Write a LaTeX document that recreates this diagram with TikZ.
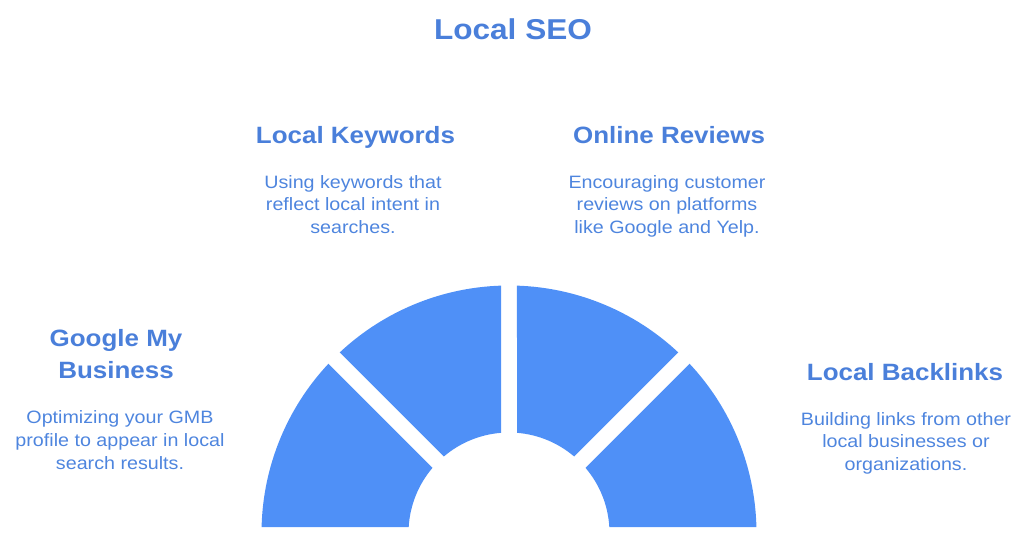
\documentclass[tikz,border=0pt]{standalone}
\usepackage{fontspec}
\setmainfont{Liberation Sans}[FakeStretch=1.1]
\definecolor{segblue}{HTML}{4F90F7}
\definecolor{headblue}{HTML}{4A7FDA}
\definecolor{bodyblue}{HTML}{4E85DE}
\newcommand{\blocklines}[1]{\begin{tabular}[t]{@{}c@{}}#1\end{tabular}}
\begin{document}
\begin{tikzpicture}[x=1pt,y=1pt,
  seg/.style={fill=segblue,draw=none},
  titletext/.style={inner sep=0pt,anchor=base,text=headblue,font=\fontsize{28.7}{34}\selectfont\bfseries},
  headtext/.style={inner sep=0pt,anchor=base,text=headblue,font=\fontsize{23.6}{31.7}\selectfont\bfseries},
  bodytext/.style={inner sep=0pt,anchor=base,text=bodyblue,font=\fontsize{17.9}{22.5}\selectfont}]
\useasboundingbox (0,0) rectangle (1024,538);
\coordinate (C) at (509,5);
% segments
\fill[seg] ([shift={(136.85:247.5pt)}]C) arc[start angle=136.85,end angle=178.61,radius=247.5pt]
  -- ([shift={(176.58:100.5pt)}]C) arc[start angle=176.58,end angle=139.57,radius=100.5pt] -- cycle;
\fill[seg] ([shift={(91.85:247.5pt)}]C) arc[start angle=91.85,end angle=133.15,radius=247.5pt]
  -- ([shift={(130.43:100.5pt)}]C) arc[start angle=130.43,end angle=94.57,radius=100.5pt] -- cycle;
\fill[seg] ([shift={(46.85:247.5pt)}]C) arc[start angle=46.85,end angle=88.15,radius=247.5pt]
  -- ([shift={(85.43:100.5pt)}]C) arc[start angle=85.43,end angle=49.57,radius=100.5pt] -- cycle;
\fill[seg] ([shift={(1.389:247.5pt)}]C) arc[start angle=1.389,end angle=43.15,radius=247.5pt]
  -- ([shift={(40.43:100.5pt)}]C) arc[start angle=40.43,end angle=3.423,radius=100.5pt] -- cycle;
% texts
\node[titletext] (title) at (513,498) {Local SEO};
\node[headtext] (kwhead) at (355.5,394.7) {Local Keywords};
\node[bodytext] (kwbody) at (353,349.5) {\blocklines{Using keywords that\\reflect local intent in\\searches.}};
\node[headtext] (rvhead) at (669,394.7) {Online Reviews};
\node[bodytext] (rvbody) at (667,349.5) {\blocklines{Encouraging customer\\reviews on platforms\\like Google and Yelp.}};
\node[headtext] (blhead) at (905,157.3) {Local Backlinks};
\node[bodytext] (blbody) at (906,113) {\blocklines{Building links from other\\local businesses or\\organizations.}};
\node[headtext] (gmhead) at (116,191.3) {\blocklines{Google My\\Business}};
\node[bodytext] (gmbody) at (120,114) {\blocklines{Optimizing your GMB\\profile to appear in local\\search results.}};
\end{tikzpicture}
\end{document}
